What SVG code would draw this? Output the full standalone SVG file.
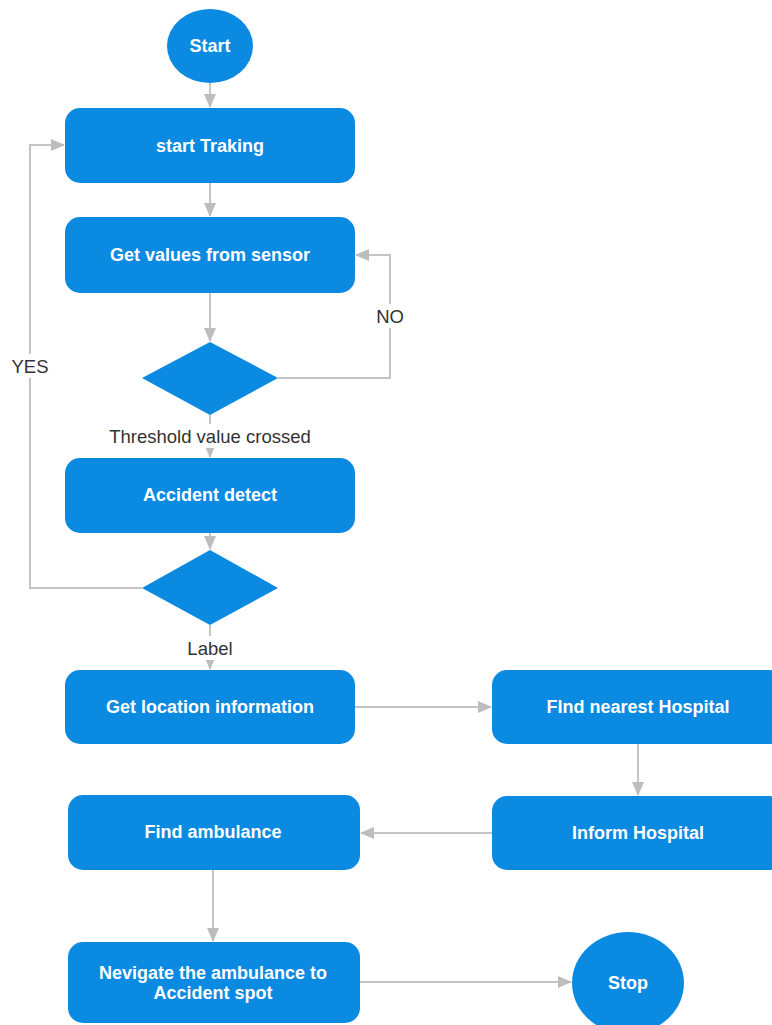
<svg xmlns="http://www.w3.org/2000/svg" width="772" height="1025" viewBox="0 0 772 1025">
<defs>
<marker id="ah" markerWidth="14" markerHeight="12" refX="13" refY="6" orient="auto" markerUnits="userSpaceOnUse">
<path d="M0,0 L14,6 L0,12 Z" fill="#bdbdbd"/>
</marker>
<style>
.n{fill:#0b8ae2;}
.t{fill:#ffffff;font-family:"Liberation Sans",Arial,sans-serif;font-size:18px;font-weight:bold;text-anchor:middle;dominant-baseline:central;}
.c{fill:none;stroke:#c4c4c4;stroke-width:2;marker-end:url(#ah);}
.l{fill:#333333;font-family:"Liberation Sans",Arial,sans-serif;font-size:18.5px;text-anchor:middle;dominant-baseline:central;}
</style>
</defs>
<rect width="772" height="1025" fill="#ffffff"/>
<g id="connectors">
<path class="c" d="M210,83 L210,107"/>
<path class="c" d="M210,183 L210,216"/>
<path class="c" d="M210,293 L210,341"/>
<path class="c" d="M278,378 L390,378 L390,255 L356,255"/>
<path class="c" d="M210,415 L210,457"/>
<path class="c" d="M210,533 L210,549"/>
<path class="c" d="M142,588 L30,588 L30,145 L64,145"/>
<path class="c" d="M210,625 L210,669"/>
<path class="c" d="M355,707 L491,707"/>
<path class="c" d="M638,744 L638,795"/>
<path class="c" d="M492,833 L361,833"/>
<path class="c" d="M213,870 L213,941"/>
<path class="c" d="M360,982 L571,982"/>
<rect x="370" y="304" width="40" height="24" fill="#ffffff"/>
<text class="l" x="390" y="316">NO</text>
<rect x="6" y="354" width="48" height="24" fill="#ffffff"/>
<text class="l" x="30" y="366">YES</text>
<rect x="98" y="424" width="224" height="24" fill="#ffffff"/>
<text class="l" x="210" y="436">Threshold value crossed</text>
<rect x="182" y="636" width="56" height="24" fill="#ffffff"/>
<text class="l" x="210" y="648">Label</text>
</g>
<g id="start">
<ellipse class="n" cx="210" cy="46" rx="43" ry="37"/>
<text class="t" x="210" y="46">Start</text>
</g>
<g id="startTracking">
<rect class="n" x="65" y="108" width="290" height="75" rx="15"/>
<text class="t" x="210" y="146">start Traking</text>
</g>
<g id="getValues">
<rect class="n" x="65" y="217" width="290" height="76" rx="15"/>
<text class="t" x="210" y="255">Get values from sensor</text>
</g>
<g id="decision1">
<polygon class="n" points="210,342 278,378 210,415 142,378"/>
</g>
<g id="accidentDetect">
<rect class="n" x="65" y="458" width="290" height="75" rx="15"/>
<text class="t" x="210" y="495">Accident detect</text>
</g>
<g id="decision2">
<polygon class="n" points="210,550 278,588 210,625 142,588"/>
</g>
<g id="getLocation">
<rect class="n" x="65" y="670" width="290" height="74" rx="15"/>
<text class="t" x="210" y="707">Get location information</text>
</g>
<g id="findHospital">
<rect class="n" x="492" y="670" width="292" height="74" rx="15"/>
<text class="t" x="638" y="707">FInd nearest Hospital</text>
</g>
<g id="informHospital">
<rect class="n" x="492" y="796" width="292" height="74" rx="15"/>
<text class="t" x="638" y="833">Inform Hospital</text>
</g>
<g id="findAmbulance">
<rect class="n" x="68" y="795" width="292" height="75" rx="15"/>
<text class="t" x="213" y="832">Find ambulance</text>
</g>
<g id="navigate">
<rect class="n" x="68" y="942" width="292" height="81" rx="15"/>
<text class="t" x="213" y="973">Nevigate the ambulance to</text>
<text class="t" x="213" y="993">Accident spot</text>
</g>
<g id="stop">
<ellipse class="n" cx="628" cy="983" rx="56" ry="51"/>
<text class="t" x="628" y="983">Stop</text>
</g>
</svg>
